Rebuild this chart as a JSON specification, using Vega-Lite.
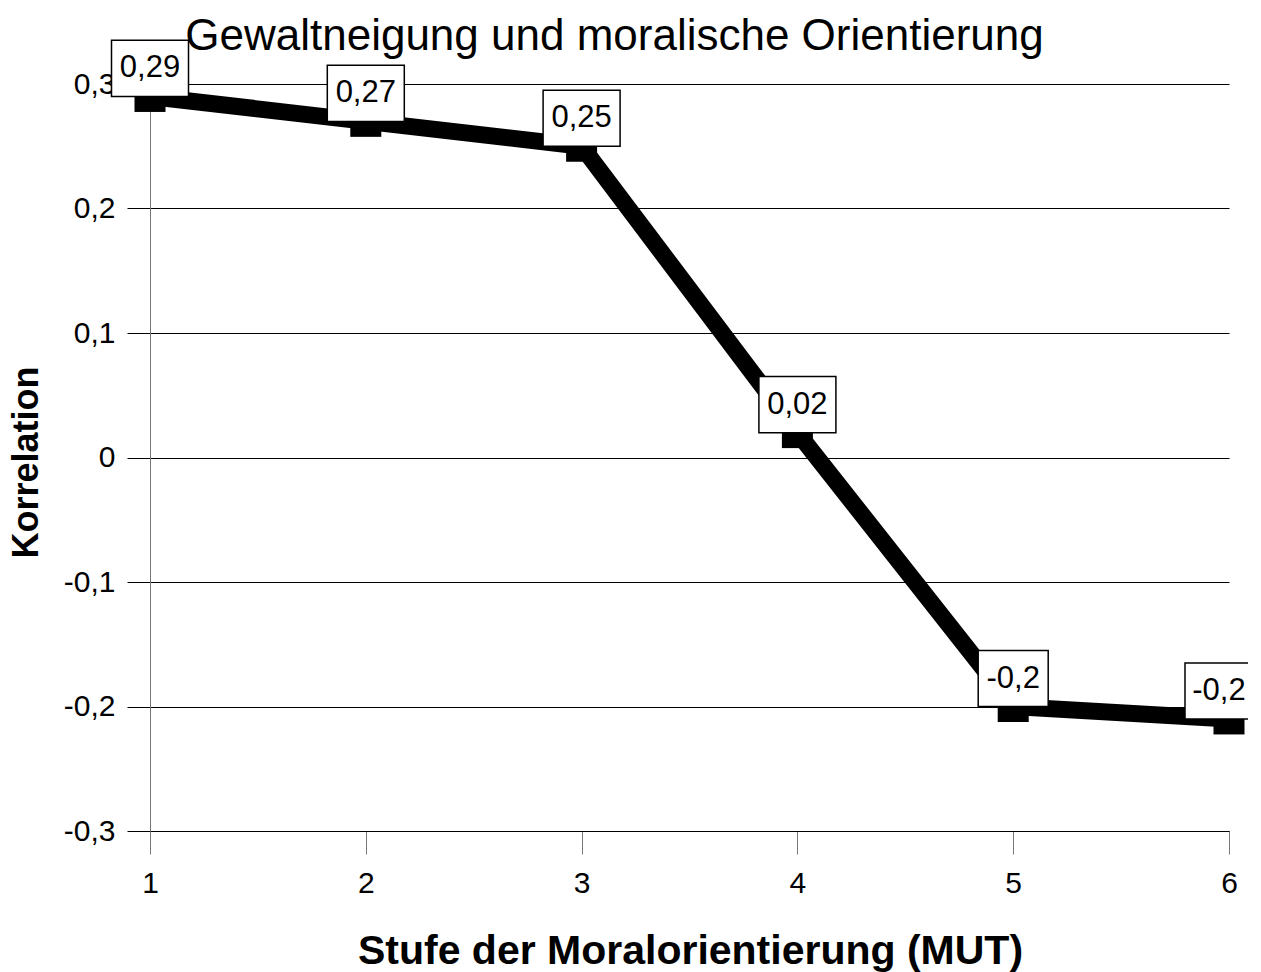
{
  "$schema": "https://vega.github.io/schema/vega-lite/v6.json",
  "autosize": "none",
  "width": 1079,
  "height": 747,
  "padding": {"left": 150, "top": 84, "right": 19, "bottom": 141},
  "background": "white",
  "config": {
    "view": {"stroke": null},
    "font": "Liberation Sans",
    "locale": {"number": {"decimal": ",", "thousands": ".", "grouping": [3], "currency": ["", " €"], "minus": "-"}}
  },
  "title": {
    "text": "Gewaltneigung und moralische Orientierung",
    "font": "Liberation Sans",
    "fontSize": 44,
    "fontWeight": "normal",
    "color": "black",
    "anchor": "middle",
    "frame": "group",
    "dx": -75,
    "offset": -22
  },
  "data": {
    "values": [
      {"stufe": 1, "r": 0.29, "label": "0,29"},
      {"stufe": 2, "r": 0.27, "label": "0,27"},
      {"stufe": 3, "r": 0.25, "label": "0,25"},
      {"stufe": 4, "r": 0.02, "label": "0,02"},
      {"stufe": 5, "r": -0.2, "label": "-0,2"},
      {"stufe": 6, "r": -0.21, "label": "-0,2"}
    ]
  },
  "encoding": {
    "x": {
      "field": "stufe",
      "type": "quantitative",
      "scale": {"domain": [1, 6], "nice": false, "zero": false},
      "axis": {
        "title": "Stufe der Moralorientierung (MUT)",
        "values": [1, 2, 3, 4, 5, 6],
        "format": "d",
        "grid": false,
        "labelFlush": false,
        "labelOverlap": false,
        "domainColor": "black",
        "domainWidth": 1,
        "tickColor": "#777",
        "tickSize": 23,
        "tickWidth": 1,
        "labelFont": "Liberation Sans",
        "labelFontSize": 30,
        "labelColor": "black",
        "labelPadding": 14,
        "titleFont": "Liberation Sans",
        "titleFontSize": 41,
        "titleFontWeight": "bold",
        "titleColor": "black",
        "titleBaseline": "alphabetic",
        "titleY": 132,
        "titleX": 540
      }
    },
    "y": {
      "field": "r",
      "type": "quantitative",
      "scale": {"domain": [-0.3, 0.3], "nice": false, "zero": false},
      "axis": {
        "title": "Korrelation",
        "values": [-0.3, -0.2, -0.1, 0, 0.1, 0.2, 0.3],
        "format": ".1~f",
        "grid": true,
        "gridColor": "black",
        "gridWidth": 1,
        "gridOpacity": 1,
        "domainColor": "#777",
        "domainWidth": 1,
        "tickColor": "black",
        "tickSize": 23,
        "tickWidth": 1,
        "labelFont": "Liberation Sans",
        "labelFontSize": 30,
        "labelColor": "black",
        "labelPadding": 12,
        "labelOverlap": false,
        "titleFont": "Liberation Sans",
        "titleFontSize": 36,
        "titleFontWeight": "bold",
        "titleColor": "black",
        "titleAngle": -90,
        "titleBaseline": "alphabetic",
        "titleX": -113,
        "titleY": 378
      }
    }
  },
  "layer": [
    {
      "mark": {"type": "line", "color": "black", "strokeWidth": 17, "strokeCap": "butt", "strokeJoin": "miter"}
    },
    {
      "mark": {"type": "point", "shape": "square", "size": 961, "filled": true, "color": "black", "opacity": 1}
    },
    {
      "transform": [{"filter": "datum.r >= 0"}],
      "mark": {
        "type": "point",
        "shape": "M-1,-0.73L1,-0.73L1,0.73L-1,0.73Z",
        "size": 5929,
        "filled": true,
        "fill": "white",
        "stroke": "black",
        "strokeWidth": 1.5,
        "opacity": 1,
        "yOffset": -28
      }
    },
    {
      "transform": [{"filter": "datum.r < 0 && datum.stufe < 6"}],
      "mark": {
        "type": "point",
        "shape": "M-1,-0.8L1,-0.8L1,0.8L-1,0.8Z",
        "size": 4900,
        "filled": true,
        "fill": "white",
        "stroke": "black",
        "strokeWidth": 1.5,
        "opacity": 1,
        "yOffset": -28
      }
    },
    {
      "transform": [{"filter": "datum.stufe == 6"}],
      "mark": {
        "type": "point",
        "shape": "M-1,-0.8L1,-0.8L1,0.8L-1,0.8Z",
        "size": 4900,
        "filled": true,
        "fill": "white",
        "stroke": "black",
        "strokeWidth": 1.5,
        "opacity": 1,
        "xOffset": -9,
        "yOffset": -28
      }
    },
    {
      "transform": [{"filter": "datum.stufe < 6"}],
      "mark": {
        "type": "text",
        "font": "Liberation Sans",
        "fontSize": 31,
        "color": "black",
        "align": "center",
        "baseline": "middle",
        "dy": -28
      },
      "encoding": {"text": {"field": "label"}}
    },
    {
      "transform": [{"filter": "datum.stufe == 6"}],
      "mark": {
        "type": "text",
        "font": "Liberation Sans",
        "fontSize": 31,
        "color": "black",
        "align": "center",
        "baseline": "middle",
        "dx": -10,
        "dy": -28
      },
      "encoding": {"text": {"field": "label"}}
    }
  ]
}
